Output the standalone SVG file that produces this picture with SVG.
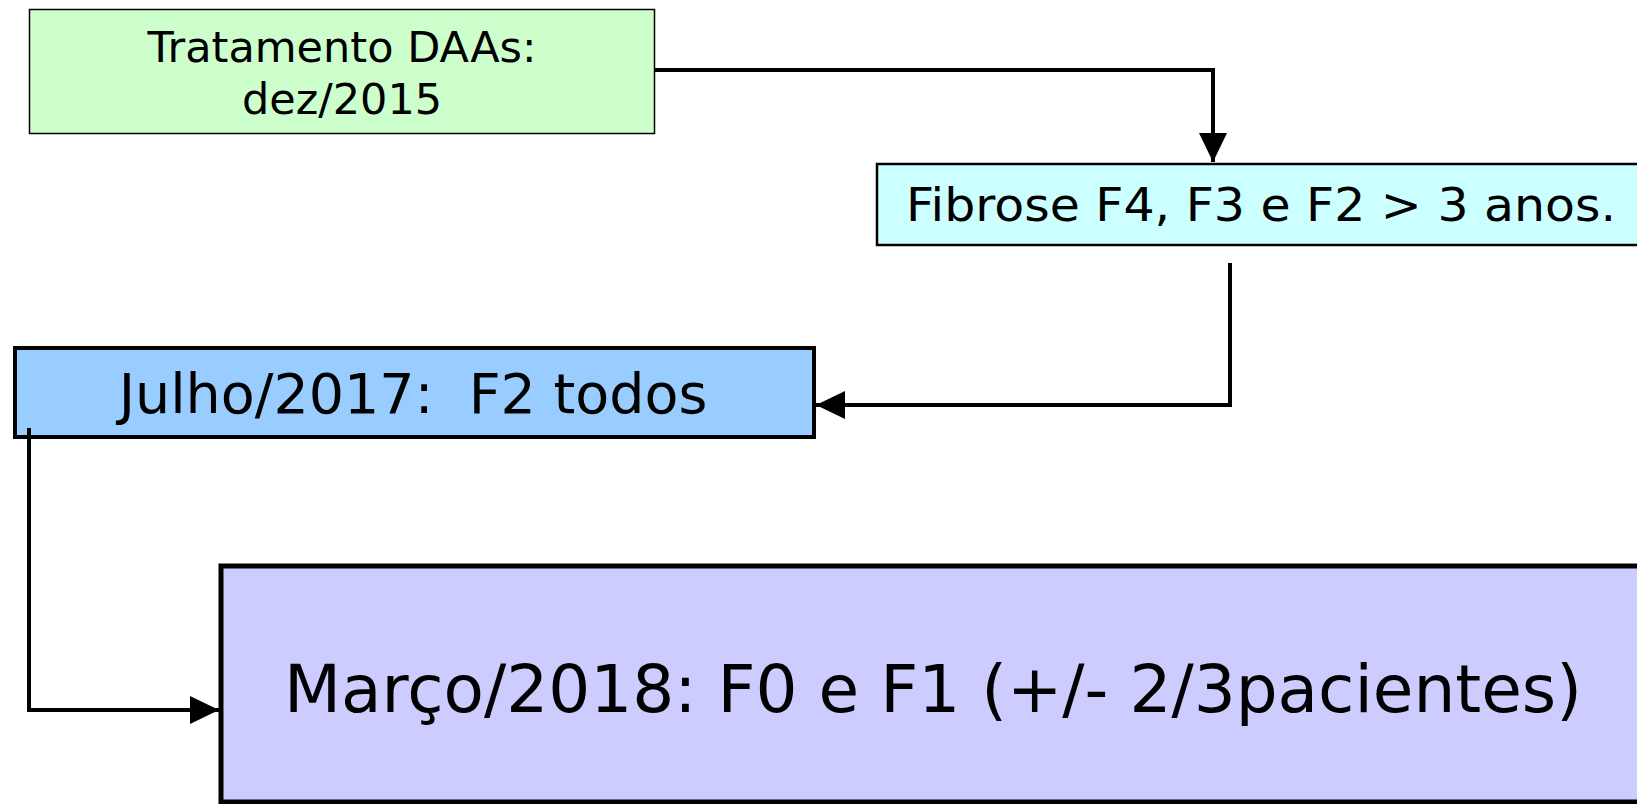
<svg xmlns="http://www.w3.org/2000/svg" width="1637" height="804" viewBox="0 0 1637 804">
<style>
.lbl{font-family:"DejaVu Sans","Verdana",sans-serif;fill:#000;text-anchor:middle}
.conn{fill:none;stroke:#000;stroke-width:4}
</style>
<defs>
<marker id="ah" markerUnits="userSpaceOnUse" markerWidth="30" markerHeight="30" viewBox="0 0 30 30" refX="29" refY="15" orient="auto">
<path d="M0,1 L29,15 L0,29 Z" fill="#000"/>
</marker>
</defs>
<rect width="1637" height="804" fill="#fff"/>
<g id="n1">
<rect x="29.5" y="9.5" width="625" height="124" fill="#CCFFCC" stroke="#000" stroke-width="1.5"/>
<text class="lbl" x="342" y="62" font-size="43">Tratamento DAAs:</text>
<text class="lbl" x="342" y="114" font-size="43">dez/2015</text>
</g>
<g id="n2">
<rect x="877" y="164" width="770" height="81" fill="#CCFFFF" stroke="#000" stroke-width="2.5"/>
<text x="906" y="221" font-size="47" font-family="DejaVu Sans, Verdana, sans-serif" textLength="710" lengthAdjust="spacingAndGlyphs">Fibrose F4, F3 e F2 &gt; 3 anos.</text>
</g>
<g id="n3">
<rect x="15" y="348" width="799" height="89" fill="#99CCFF" stroke="#000" stroke-width="4"/>
<text class="lbl" x="413" y="413" font-size="55.5" xml:space="preserve">Julho/2017:  F2 todos</text>
</g>
<g id="n4">
<rect x="221" y="566" width="1430" height="236" fill="#CCCCFF" stroke="#000" stroke-width="5"/>
<text x="284" y="712" font-size="66" font-family="DejaVu Sans, Verdana, sans-serif" textLength="1298" lengthAdjust="spacingAndGlyphs">Março/2018: F0 e F1 (+/- 2/3pacientes)</text>
</g>
<g id="connectors">
<path class="conn" d="M654,70 H1213 V162" marker-end="url(#ah)"/>
<path class="conn" d="M1230,263 V405 H816" marker-end="url(#ah)"/>
<path class="conn" d="M29,428 V710 H219" marker-end="url(#ah)"/>
</g>
</svg>
